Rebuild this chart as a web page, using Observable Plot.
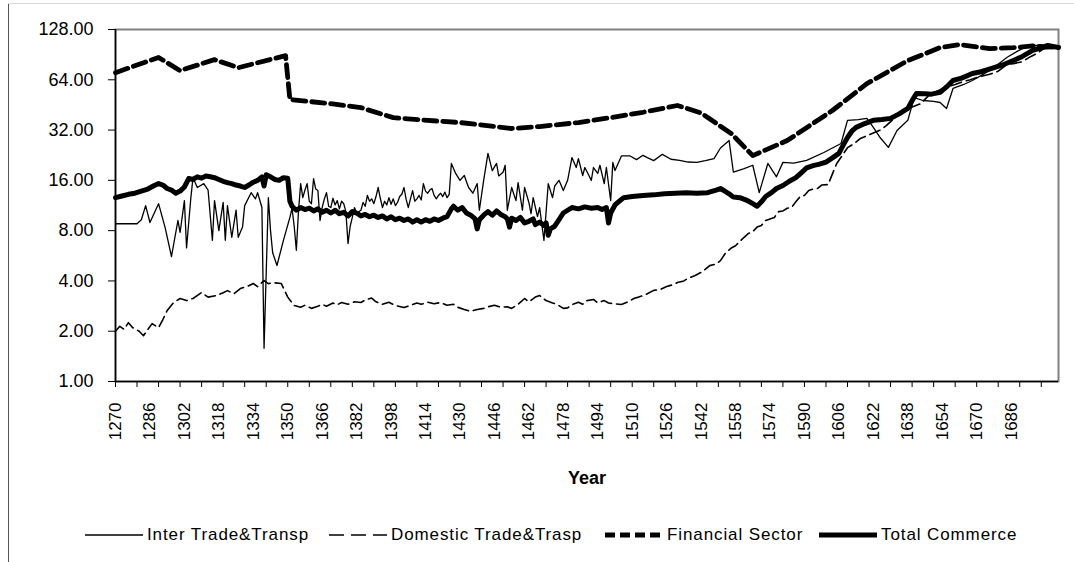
<!DOCTYPE html>
<html><head><meta charset="utf-8">
<script src="https://cdn.jsdelivr.net/npm/d3@7"></script>
<script src="https://cdn.jsdelivr.net/npm/@observablehq/plot@0.6"></script>
<style>
html,body{margin:0;padding:0;background:#fff;}
#wrap{position:relative;width:1074px;height:562px;overflow:hidden;font-family:"Liberation Sans",Arial,sans-serif;background:#fff;}
#bl{position:absolute;left:8px;top:3px;width:1px;height:559px;background:#555;}
#bt{position:absolute;left:8px;top:3px;width:1066px;height:1px;background:#d9d9d9;}
#chart{position:absolute;left:0;top:0;}
#legend{position:absolute;left:0;top:524px;width:1074px;height:22px;}
.item{position:absolute;top:0;height:22px;display:flex;align-items:center;font-size:17px;letter-spacing:0.9px;color:#000;white-space:nowrap;}
.item svg{margin-right:4px;}
</style></head><body>
<div id="wrap"><div id="chart"></div><div id="bl"></div><div id="bt"></div><div id="legend"></div></div>
<script>
// ---- data ----
const seriesNames = ["Inter Trade&Transp", "Domestic Trade&Trasp", "Financial Sector", "Total Commerce"];
const yTicks = [1, 2, 4, 8, 16, 32, 64, 128];
const xTickYears = d3.range(1270, 1709, 10);
const xLabelYears = d3.range(1270, 1700, 16);

const interYears = [1270,1280,1282,1284,1286,1290,1293,1296,1299,1300,1302,1303,1305,1306,1308,1311,1313,1315,1316,1318,1320,1321,1322,1324,1326,1327,1329,1330,1333,1335,1336,1338,1339,1341,1342,1343,1345,1348,1351,1352,1353,1354,1355,1356,1357,1358,1359,1360,1361,1362,1363,1364,1365,1366,1367,1368,1369,1370,1371,1372,1373,1374,1375,1376,1377,1378,1379,1380,1381,1382,1384,1385,1386,1387,1388,1389,1390,1391,1392,1393,1394,1395,1396,1397,1398,1399,1400,1401,1402,1403,1404,1405,1406,1407,1408,1409,1410,1411,1412,1413,1414,1415,1416,1417,1418,1419,1420,1421,1422,1423,1424,1425,1426,1428,1430,1432,1434,1436,1438,1439,1441,1443,1445,1447,1448,1450,1451,1452,1454,1456,1457,1459,1460,1462,1463,1464,1466,1467,1469,1471,1473,1474,1476,1478,1480,1482,1484,1485,1487,1488,1490,1491,1492,1494,1495,1497,1498,1500,1501,1502,1505,1509,1512,1515,1517,1520,1524,1528,1532,1536,1540,1544,1548,1551,1555,1557,1562,1566,1569,1573,1577,1580,1585,1591,1599,1607,1610,1615,1619,1622,1625,1629,1633,1638,1641,1645,1650,1653,1656,1659,1664,1668,1673,1678,1684,1689,1694,1700,1708];
const interValues = [8.8,8.8,9.3,11.3,8.95,11.6,8.4,5.6,9.2,7.8,12.1,6.3,12.6,16.6,14.5,15.3,14.0,7.0,12.1,8.0,11.8,7.0,11.3,7.3,10.6,7.3,8.4,11.3,13.5,12.4,13.5,11.0,1.58,12.6,8.0,5.9,4.95,7.0,9.6,10.9,8.5,6.1,10.5,15.3,12.6,14.0,15.3,12.0,11.6,16.4,14.2,13.9,9.2,11.0,12.4,13.5,11.2,11.0,12.5,11.4,12.1,10.8,12.0,11.6,10.4,6.7,8.5,9.6,11.0,10.2,10.6,11.8,11.2,13.0,12.0,12.4,11.6,12.8,14.5,12.5,11.0,12.0,11.4,12.6,11.5,12.4,11.3,11.8,12.8,13.2,14.5,12.3,11.0,12.4,13.9,12.0,12.4,13.0,12.2,15.3,13.8,13.4,14.0,14.3,13.0,12.4,13.0,13.4,12.8,13.6,12.6,13.2,20.2,17.6,16.0,17.1,14.5,13.4,15.3,10.6,16.0,23.2,18.3,20.2,17.0,17.9,19.7,10.6,14.5,12.1,15.5,10.6,14.5,11.8,10.1,12.6,9.7,11.0,7.0,15.3,12.6,14.8,16.0,13.9,16.0,21.9,19.1,21.6,17.1,19.1,17.0,16.0,19.1,17.6,19.7,15.3,19.1,12.1,20.5,18.3,22.4,22.4,21.3,22.6,21.9,21.0,22.9,21.4,21.1,20.6,20.5,21.0,21.6,25.0,27.7,17.9,18.8,19.7,13.5,20.2,16.8,20.5,20.3,21.1,23.5,26.6,36.6,37.0,37.6,33.2,29.0,25.2,31.8,36.6,50.0,48.1,47.5,46.8,43.1,56.8,60.0,63.4,69.0,75.8,87.0,95.0,102.7,102.7,100];

const domYears = [1270,1272,1274,1276,1278,1281,1283,1285,1287,1290,1292,1294,1297,1300,1303,1306,1310,1313,1317,1320,1322,1325,1328,1331,1334,1336,1339,1341,1343,1347,1350,1353,1356,1358,1361,1364,1366,1368,1371,1373,1375,1378,1381,1384,1386,1389,1391,1394,1397,1400,1404,1407,1410,1412,1415,1418,1421,1424,1427,1429,1432,1435,1438,1441,1443,1446,1449,1452,1454,1457,1460,1462,1465,1467,1470,1473,1475,1478,1480,1482,1485,1487,1489,1492,1494,1497,1499,1502,1505,1508,1511,1513,1516,1520,1523,1526,1529,1531,1534,1536,1539,1542,1544,1546,1549,1551,1553,1556,1558,1560,1562,1564,1566,1568,1570,1572,1574,1576,1578,1580,1582,1584,1586,1588,1590,1592,1594,1596,1598,1601,1603,1605,1607,1610,1613,1616,1620,1625,1628,1632,1636,1640,1644,1648,1652,1656,1660,1663,1667,1671,1676,1680,1684,1687,1691,1695,1698,1701,1704,1708];
const domValues = [2.0,2.14,2.05,2.25,2.1,2.0,1.88,2.05,2.22,2.1,2.35,2.66,2.97,3.14,3.05,3.14,3.41,3.2,3.27,3.4,3.5,3.35,3.6,3.7,3.86,3.7,4.02,3.85,3.91,3.86,3.2,2.85,2.78,2.86,2.74,2.82,2.9,2.82,2.95,2.88,2.97,2.9,3.0,2.97,3.08,3.16,3.0,2.9,2.98,2.85,2.77,2.86,2.95,2.9,2.98,2.92,2.97,2.86,2.9,2.78,2.7,2.63,2.7,2.74,2.8,2.86,2.78,2.8,2.74,2.9,3.14,3.0,3.2,3.27,3.05,2.95,2.9,2.74,2.76,2.88,2.98,2.9,3.05,3.1,2.96,3.05,2.95,2.92,2.89,3.0,3.15,3.2,3.3,3.51,3.55,3.7,3.8,3.91,4.0,4.15,4.3,4.5,4.7,4.94,5.05,5.29,5.8,6.3,6.5,6.9,7.3,7.7,7.9,8.4,8.6,9.2,9.4,9.6,10.4,10.5,10.9,11.0,11.9,12.8,13.0,13.9,14.2,14.3,15.0,15.1,17.5,20.2,22,25.1,26.5,28.5,30,31.9,34,38,41,44,46,52,55,58,60,62,64,66.7,69,72,79,80,82,88,92,98,99,100];

const finYears = [1270,1290,1300,1316,1327,1349,1351,1370,1384,1399,1412,1430,1454,1467,1485,1500,1515,1531,1542,1556,1566,1582,1603,1619,1638,1653,1662,1676,1687,1696,1708];
const finValues = [70.6,87,72.6,84.5,75.6,89.3,48.8,46,43.6,38,36.8,35.5,32.7,33.6,35.5,38,40.9,44.9,40.5,30.5,22.5,27.7,41.9,60.7,83.4,99.7,104,98.3,99.7,102,100];

const totYears = [1270,1273,1276,1279,1282,1285,1288,1290,1292,1294,1296,1298,1300,1302,1304,1306,1308,1310,1312,1314,1316,1318,1320,1322,1324,1326,1328,1330,1332,1334,1336,1338,1339,1340,1342,1344,1346,1348,1350,1351,1352,1354,1356,1358,1360,1362,1364,1366,1368,1370,1372,1374,1376,1378,1380,1382,1384,1386,1388,1390,1392,1394,1396,1398,1400,1402,1404,1406,1408,1410,1412,1414,1416,1418,1420,1422,1424,1426,1427,1429,1431,1433,1435,1437,1438,1439,1441,1443,1445,1447,1449,1451,1452,1453,1454,1456,1458,1460,1462,1464,1465,1467,1469,1470,1471,1472,1474,1476,1478,1480,1482,1485,1488,1491,1494,1496,1498,1499,1500,1502,1504,1506,1510,1515,1520,1525,1530,1535,1540,1545,1549,1551,1553,1555,1557,1560,1563,1566,1568,1570,1572,1575,1577,1580,1583,1586,1588,1591,1594,1597,1600,1603,1606,1608,1610,1612,1614,1618,1622,1626,1630,1634,1638,1640,1642,1646,1649,1653,1656,1659,1663,1668,1672,1677,1682,1687,1691,1696,1700,1703,1706,1708];
const totValues = [12.6,12.9,13.2,13.4,13.8,14.2,14.9,15.3,15.0,14.3,14.0,13.4,13.8,14.6,16.4,16.2,16.8,16.5,17.0,16.8,16.6,16.2,15.8,15.5,15.3,15.0,14.8,14.5,15.0,15.6,16.0,16.8,14.8,17.3,16.8,16.2,16.0,16.6,16.5,12.0,11.2,10.6,11.0,10.7,10.9,10.5,10.8,10.3,10.6,10.2,10.6,10.1,10.3,9.8,10.4,10.2,9.8,10.0,9.7,9.9,9.6,9.8,9.4,9.7,9.3,9.5,9.2,9.4,9.0,9.3,9.0,9.3,9.1,9.4,9.2,9.5,9.7,10.8,11.2,10.6,11.0,10.2,9.9,9.4,8.2,9.3,9.9,10.4,9.9,10.5,10.0,9.7,9.4,8.4,9.5,9.2,9.6,8.9,9.1,9.4,8.7,9.0,8.6,8.9,7.5,8.2,8.5,9.3,10.2,10.6,11.0,10.8,11.1,10.9,11.0,10.7,11.0,8.9,10.2,11.4,12.0,12.6,12.8,13.0,13.1,13.3,13.4,13.5,13.4,13.5,14.0,14.3,13.8,13.3,12.7,12.6,12.2,11.6,11.2,11.9,12.8,13.6,14.3,14.9,15.8,16.6,17.5,19.0,19.6,20.0,20.6,21.8,23.2,26,28.9,31.5,33.2,35.0,36.6,37.0,37.6,40.0,43.1,48,53.0,52.8,52.5,53.8,58.0,63.4,65.5,69.8,71.5,74.8,78.5,83.5,88,95.9,99.5,102.7,101,100];

const toRows = (ys, vs) => ys.map((y, i) => ({year: y, value: vs[i]}));
const inter = toRows(interYears, interValues);
const dom = toRows(domYears, domValues);
const fin = toRows(finYears, finValues);
const tot = toRows(totYears, totValues);

const styles = [
  {strokeWidth: 1.3, strokeDasharray: null},
  {strokeWidth: 1.6, strokeDasharray: "11,5"},
  {strokeWidth: 4.8, strokeDasharray: "13,6"},
  {strokeWidth: 5, strokeDasharray: null}
];

const chart = Plot.plot({
  width: 1074, height: 500,
  marginLeft: 115, marginRight: 16, marginTop: 29, marginBottom: 119,
  style: {fontFamily: "Liberation Sans, Arial, sans-serif", background: "transparent", color: "black"},
  x: {domain: [1270, 1708], label: null},
  y: {type: "log", base: 2, domain: [1, 128], label: null},
  marks: [
    Plot.frame({stroke: "#808080", strokeWidth: 2}),
    Plot.ruleX([1270], {stroke: "black", strokeWidth: 1.5}),
    Plot.ruleY([1], {stroke: "black", strokeWidth: 1.5}),
    Plot.axisY(yTicks, {tickSize: 7, tickPadding: 15, fontSize: 18, tickFormat: d => d.toFixed(2), label: null}),
    Plot.axisX(xTickYears, {tickSize: 6, tickFormat: () => "", label: null}),
    Plot.axisX(xLabelYears, {tickSize: 0, tickPadding: 21, tickRotate: -90, fontSize: 17, tickFormat: d => String(d), label: null}),
    Plot.text(["Year"], {text: d => d, frameAnchor: "bottom", dy: 102, fontSize: 18, fontWeight: "bold"}),
    Plot.line(dom, {x: "year", y: "value", stroke: "black", ...styles[1]}),
    Plot.line(inter, {x: "year", y: "value", stroke: "black", ...styles[0]}),
    Plot.line(fin, {x: "year", y: "value", stroke: "black", ...styles[2]}),
    Plot.line(tot, {x: "year", y: "value", stroke: "black", strokeLinejoin: "round", ...styles[3]})
  ]
});
document.getElementById("chart").appendChild(chart);

// legend
const legendX = [85, 329, 605, 819];
const legendDash = [null, "15,7", "10,5", null];
const legend = document.getElementById("legend");
seriesNames.forEach((name, i) => {
  const item = document.createElement("div");
  item.className = "item";
  item.style.left = legendX[i] + "px";
  const s = styles[i];
  item.innerHTML = `<svg width="58" height="22"><line x1="0" x2="58" y1="11" y2="11" stroke="black" stroke-width="${i===0 ? 1.5 : s.strokeWidth}" ${legendDash[i] ? `stroke-dasharray="${legendDash[i]}"` : ""}/></svg><span>${name.replace(/&/g, "&amp;")}</span>`;
  legend.appendChild(item);
});
</script>
</body></html>
